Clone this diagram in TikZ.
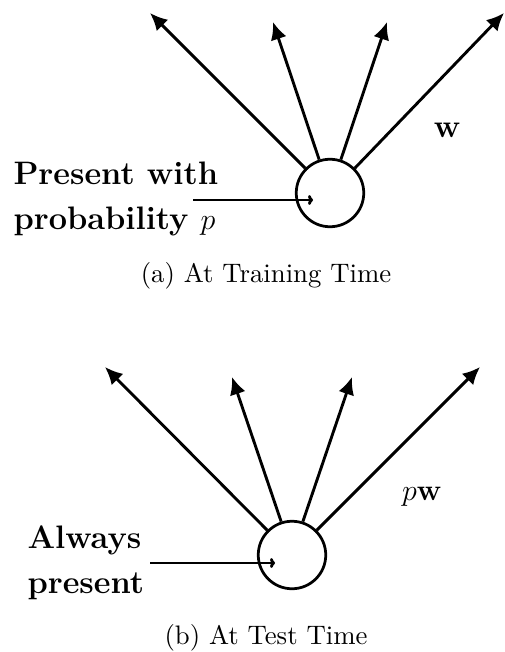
\documentclass[tikz,border=0pt]{standalone}
\usetikzlibrary{arrows.meta}
\begin{document}
\begin{tikzpicture}[x=0.4pt,y=-0.4pt,
  neuron/.style={draw,circle,line width=1.1pt,minimum size=27pt,inner sep=0pt},
  outarrow/.style={line width=1.15pt,-{Latex[length=7pt,width=6.5pt]}},
  inarrow/.style={line width=1.15pt,-{To[length=2pt,width=4pt]}},
  lbl/.style={font=\fontsize{13}{18}\selectfont\bfseries,align=left,inner sep=0pt},
  caption/.style={font=\fontsize{10.7}{12}\selectfont,inner sep=0pt}]
\useasboundingbox (0,0) rectangle (505,652);
% (a) training
\node[neuron] (n1) at (330,193) {};
\coordinate (a1) at (150,13);
\coordinate (a2) at (273,22);
\coordinate (a3) at (387,22);
\coordinate (a4) at (504,13);
\coordinate (ain) at (193,200);
\coordinate (aend) at (313,200);
\draw[outarrow] (n1.135) -- (a1);
\draw[outarrow] (n1.108) -- (a2);
\draw[outarrow] (n1.72) -- (a3);
\draw[outarrow] (n1.45) -- (a4);
\draw[inarrow] (ain) -- (aend);
\node[lbl,anchor=base west] (ta) at (13,230) {Present with\\probability $p$};
\node[lbl,anchor=base] (wa) at (447,138) {w};
\node[caption] (capa) at (266,276) {(a) At Training Time};
% (b) test
\node[neuron] (n2) at (292,555) {};
\coordinate (b1) at (105,367);
\coordinate (b2) at (232,377);
\coordinate (b3) at (352,377);
\coordinate (b4) at (480,367);
\coordinate (bin) at (150,563);
\coordinate (bend) at (275,563);
\draw[outarrow] (n2.135) -- (b1);
\draw[outarrow] (n2.108) -- (b2);
\draw[outarrow] (n2.72) -- (b3);
\draw[outarrow] (n2.45) -- (b4);
\draw[inarrow] (bin) -- (bend);
\node[lbl,anchor=base west] (tb) at (27,593) {Always\\present};
\node[lbl,anchor=base] (wb) at (422,500) {$p\mathbf{w}$};
\node[caption] (capb) at (266,638) {(b) At Test Time};
\end{tikzpicture}
\end{document}
